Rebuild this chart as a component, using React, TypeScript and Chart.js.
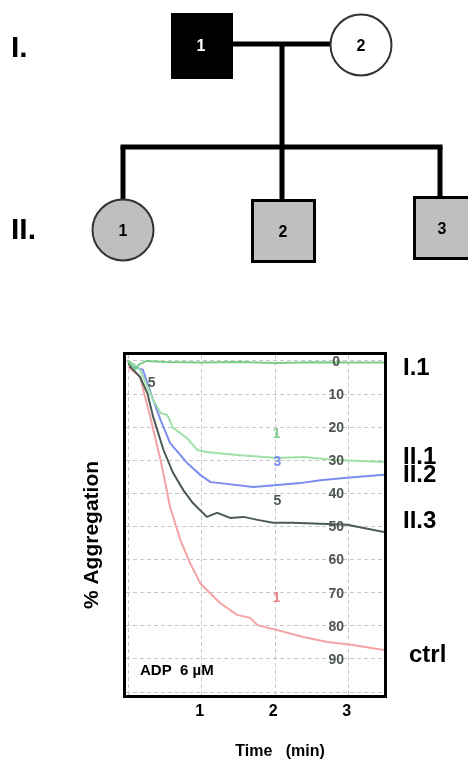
import React, { useEffect, useRef } from "react";
import { Chart, registerables } from "chart.js";

Chart.register(...registerables);

// ---- data (time in min, % aggregation) ----
const timeI1 = [0, 0.05, 0.1, 0.15, 0.25, 0.5, 1, 1.5, 2, 2.5, 3, 3.48];
const aggI1 = [0, 1.5, 2.5, 1, 0, 0.3, 0.5, 0.3, 0.6, 0.4, 0.5, 0.5];

const timeII1 = [0, 0.08, 0.16, 0.34, 0.44, 0.53, 0.61, 0.8, 0.94, 1.07, 1.48, 2.03, 2.38, 2.84, 3.48];
const aggII1 = [0, 1, 2.7, 11.8, 15.7, 16.3, 20.2, 23.3, 26.9, 27.5, 28.4, 29.3, 29.0, 29.9, 30.5];

const timeII2 = [0, 0.07, 0.2, 0.34, 0.44, 0.57, 0.8, 0.98, 1.12, 1.25, 1.7, 2.03, 2.34, 2.61, 2.98, 3.48];
const aggII2 = [0, 1.8, 2.7, 11.8, 17.8, 24.8, 30.8, 34.4, 36.6, 36.9, 38.1, 37.5, 36.9, 36.0, 35.3, 34.4];

const timeII3 = [0, 0.03, 0.16, 0.26, 0.34, 0.48, 0.61, 0.75, 0.88, 1.07, 1.21, 1.39, 1.57, 1.76, 1.97, 2.24, 2.61, 2.98, 3.48];
const aggII3 = [0, 1.8, 4.8, 9.7, 16.9, 26.9, 33.8, 39.0, 42.9, 47.1, 45.9, 47.4, 47.1, 48.0, 48.9, 48.9, 49.2, 49.5, 51.7];

const timeCtrl = [0, 0.16, 0.3, 0.44, 0.57, 0.71, 0.84, 0.98, 1.07, 1.25, 1.48, 1.66, 1.76, 2.03, 2.38, 2.71, 3.06, 3.48];
const aggCtrl = [1.8, 4.8, 16.9, 29.9, 44.1, 54.1, 61.0, 67.1, 69.2, 73.1, 76.7, 77.6, 79.8, 81.3, 83.4, 84.9, 85.8, 87.3];

const seriesNames = ["I.1", "II.1", "II.2", "II.3", "ctrl"];
const seriesColors = ["#78cc88", "#9fe0a9", "#7b8bef", "#4c5a56", "#f4a3a3"];

const xTicks = [0, 1, 2, 3];
const xTickLabels = ["", "1", "2", "3"];
const yTicks = [0, 10, 20, 30, 40, 50, 60, 70, 80, 90, 100];
const yTickLabels = ["0", "10", "20", "30", "40", "50", "60", "70", "80", "90"];

// value at which each end-of-curve label sits
const labelValues = [2.2, 29.2, 34.6, 48.5, 89];

// hand-written marks on the trace
const markTexts = ["5", "1", "3", "5", "1"];
const markTimes = [0.32, 2.02, 2.03, 2.03, 2.02];
const markValues = [6.6, 22, 30.5, 42.3, 71.5];
const markColors = ["#4c5a56", "#7fd08d", "#7b8bef", "#4c5a56", "#f08a8a"];

function toPoints(t: number[], v: number[]) {
  return t.map((x, i) => ({ x, y: v[i] }));
}

const FONT = '"Liberation Sans", Arial, sans-serif';

const overlayPlugin = {
  id: "overlay",
  afterDraw(chart: any) {
    const ctx = chart.ctx;
    const { left, right, top, bottom } = chart.chartArea;
    const xs = chart.scales.x;
    const ys = chart.scales.y;
    ctx.save();
    // frame
    ctx.strokeStyle = "#000";
    ctx.lineWidth = 3;
    ctx.strokeRect(left - 1.5, top - 1.5, right - left + 3, bottom - top + 3);

    // in-plot % labels
    ctx.fillStyle = "#4f5552";
    ctx.font = `bold 14px ${FONT}`;
    ctx.textAlign = "center";
    ctx.textBaseline = "middle";
    const lx = xs.getPixelForValue(2.83);
    yTickLabels.forEach((t, i) => {
      ctx.fillText(t, lx, ys.getPixelForValue(yTicks[i]) + 1);
    });

    // marks
    ctx.font = `bold 14px ${FONT}`;
    markTexts.forEach((t, i) => {
      ctx.fillStyle = markColors[i];
      ctx.fillText(t, xs.getPixelForValue(markTimes[i]), ys.getPixelForValue(markValues[i]));
    });

    // ADP
    ctx.fillStyle = "#000";
    ctx.textAlign = "left";
    ctx.font = `bold 15px ${FONT}`;
    ctx.fillText("ADP  6 µM", left + 14, ys.getPixelForValue(93.5));

    // x tick labels
    ctx.textAlign = "center";
    ctx.textBaseline = "top";
    ctx.font = `bold 16px ${FONT}`;
    xTicks.forEach((v, i) => {
      if (xTickLabels[i]) ctx.fillText(xTickLabels[i], xs.getPixelForValue(v) - 2, bottom + 9);
    });

    // x title
    ctx.font = `bold 16px ${FONT}`;
    ctx.textBaseline = "middle";
    ctx.fillText("Time   (min)", 280, 752);

    // y title
    ctx.save();
    ctx.translate(92, 535);
    ctx.rotate(-Math.PI / 2);
    ctx.font = `bold 21px ${FONT}`;
    ctx.fillText("% Aggregation", 0, 0);
    ctx.restore();

    // series labels at right
    ctx.textAlign = "left";
    ctx.textBaseline = "middle";
    ctx.font = `bold 24px ${FONT}`;
    ctx.fillStyle = "#000";
    seriesNames.forEach((n, i) => {
      const x = n === "ctrl" ? right + 25 : right + 19;
      ctx.fillText(n, x, ys.getPixelForValue(labelValues[i]));
    });
    ctx.restore();
  },
};

function Pedigree() {
  const gray = "#bfbfbf";
  const t = { fontFamily: FONT, fontWeight: 700 as any };
  return (
    <svg width={468} height={300} style={{ position: "absolute", left: 0, top: 0 }}>
      <text x={11} y={57} fontSize={30} {...t} fill="#000">I.</text>
      <text x={11} y={239} fontSize={30} {...t} fill="#000">II.</text>
      {/* lines */}
      <line x1={233} y1={44} x2={331} y2={44} stroke="#000" strokeWidth={5} />
      <line x1={282} y1={44} x2={282} y2={200} stroke="#000" strokeWidth={5} />
      <line x1={120.5} y1={147} x2={442.5} y2={147} stroke="#000" strokeWidth={5} />
      <line x1={123} y1={147} x2={123} y2={199} stroke="#000" strokeWidth={5} />
      <line x1={440} y1={147} x2={440} y2={197} stroke="#000" strokeWidth={5} />
      {/* generation I */}
      <rect x={171} y={13} width={62} height={66} fill="#000" />
      <text x={201} y={51} fontSize={16} {...t} fill="#fff" textAnchor="middle">1</text>
      <circle cx={361} cy={45} r={30.5} fill="#fff" stroke="#333" strokeWidth={2} />
      <text x={361} y={51} fontSize={16} {...t} fill="#000" textAnchor="middle">2</text>
      {/* generation II */}
      <circle cx={123} cy={230} r={30.5} fill={gray} stroke="#333" strokeWidth={2} />
      <text x={123} y={236} fontSize={16} {...t} fill="#000" textAnchor="middle">1</text>
      <rect x={252.5} y={200.5} width={62} height={61} fill={gray} stroke="#000" strokeWidth={3} />
      <text x={283} y={237} fontSize={16} {...t} fill="#000" textAnchor="middle">2</text>
      <rect x={414.5} y={197.5} width={62} height={61} fill={gray} stroke="#000" strokeWidth={3} />
      <text x={442} y={234} fontSize={16} {...t} fill="#000" textAnchor="middle">3</text>
    </svg>
  );
}

export default function App() {
  const ref = useRef<HTMLCanvasElement>(null);
  useEffect(() => {
    if (!ref.current) return;
    const tv = [timeI1, timeII1, timeII2, timeII3, timeCtrl];
    const vv = [aggI1, aggII1, aggII2, aggII3, aggCtrl];
    const chart = new Chart(ref.current, {
      type: "line",
      data: {
        datasets: seriesNames.map((n, i) => ({
          label: n,
          data: toPoints(tv[i], vv[i]),
          borderColor: seriesColors[i],
          borderWidth: 2,
          pointRadius: 0,
          tension: 0,
          fill: false,
        })),
      },
      options: {
        animation: false,
        responsive: false,
        devicePixelRatio: 1,
        layout: { padding: { left: 126, top: 355, right: 84, bottom: 69 } },
        plugins: { legend: { display: false }, tooltip: { enabled: false } },
        scales: {
          x: {
            type: "linear",
            min: -0.03,
            max: 3.48,
            afterBuildTicks: (s: any) => {
              s.ticks = xTicks.map((v) => ({ value: v }));
            },
            ticks: { display: false },
            grid: { color: "#c8c8c8", lineWidth: 1, drawTicks: false },
            border: { display: false, dash: [4, 3] },
          },
          y: {
            type: "linear",
            reverse: true,
            min: -1.8,
            max: 100.9,
            afterBuildTicks: (s: any) => {
              s.ticks = yTicks.map((v) => ({ value: v }));
            },
            ticks: { display: false },
            grid: { color: "#c8c8c8", lineWidth: 1, drawTicks: false },
            border: { display: false, dash: [4, 3] },
          },
        },
      },
      plugins: [overlayPlugin],
    });
    return () => chart.destroy();
  }, []);
  return (
    <div style={{ position: "fixed", left: 0, top: 0, width: 468, height: 764, background: "#fff", overflow: "hidden" }}>
      <canvas ref={ref} width={468} height={764} style={{ position: "absolute", left: 0, top: 0 }} />
      <Pedigree />
    </div>
  );
}
